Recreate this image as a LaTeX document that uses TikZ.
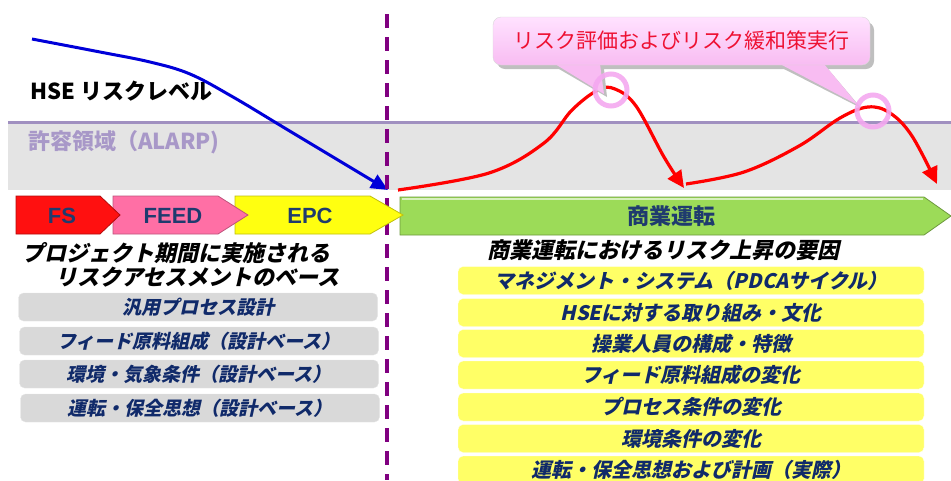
\documentclass[tikz,border=0pt]{standalone}
\usepackage{fontspec}
\newfontfamily\jp{Noto Sans CJK JP}
\newfontfamily\jpit[FakeSlant=0.22]{Noto Sans CJK JP}
\newfontfamily\lat{Liberation Sans}
\usetikzlibrary{arrows.meta}
\definecolor{navy}{HTML}{102A6A}
\definecolor{chevtext}{HTML}{1F3B6E}
\definecolor{alarp}{HTML}{A898C8}
\definecolor{bandline}{HTML}{A090C0}
\definecolor{bandfill}{HTML}{E4E4E4}
\definecolor{dashpurple}{HTML}{800080}
\definecolor{ringpink}{HTML}{F4A8F0}
\definecolor{calltop}{HTML}{FFE2FF}
\definecolor{callbot}{HTML}{F8BCF2}
\definecolor{calltext}{HTML}{EE1133}
\definecolor{boxgray}{HTML}{D9D9D9}
\definecolor{boxyellow}{HTML}{FFFF66}
\definecolor{fsred}{HTML}{FF1010}
\definecolor{feedpink}{HTML}{FF6FA5}
\definecolor{epcyellow}{HTML}{FFFF10}
\definecolor{opgreen}{HTML}{9CDB58}
\begin{document}
\begin{tikzpicture}[x=1pt,y=-1pt,
  heading/.style={font=\jpit\bfseries\fontsize{22}{26}\selectfont, text=black, inner sep=0, anchor=west},
  graybox/.style={draw=white!90!black, fill=boxgray, rounded corners=5, minimum width=359, minimum height=28, inner sep=0,
     font=\jpit\bfseries\fontsize{19}{22}\selectfont, text=navy},
  yelbox/.style={draw=white!92!yellow, fill=boxyellow, rounded corners=5, minimum width=466, minimum height=28, inner sep=0,
     font=\jpit\bfseries\fontsize{20}{23}\selectfont, text=navy},
  chevlabel/.style={font=\lat\bfseries\fontsize{22}{24}\selectfont, text=chevtext, inner sep=0},
  riskline/.style={red, line width=3.2, -{Triangle[length=17,width=16]}},
  ring/.style={draw=ringpink, line width=5, opacity=0.9}
]
\useasboundingbox (0,0) rectangle (951,480);
\clip (0,0) rectangle (951,480);

% tolerable band
\fill[bandfill] (8,122) rectangle (951,190);
\draw[bandline, line width=3] (8,122) -- (951,122);
\node[font=\jp\bfseries\fontsize{22}{24}\selectfont, text=alarp, anchor=west, inner sep=0] (alarp) at (28,142) {許容領域（ALARP)};
\node[font=\jp\bfseries\fontsize{22}{24}\selectfont, text=black, anchor=west, inner sep=0] (hse) at (30,91) {HSE リスクレベル};

% blue risk curve during project
\coordinate (b0) at (32,39);
\coordinate (b7) at (388,190);
\draw[blue!85!black, line width=3, -{Triangle[length=17,width=15]}] plot[smooth, tension=0.6] coordinates {(b0) (100,52) (150,62) (190,74) (233,97) (283,127) (333,157) (b7)};

% dashed divider
\coordinate (d0) at (387,14);
\coordinate (d1) at (387,480);
\draw[dashpurple, line width=4, dash pattern=on 14 off 9] (d0) -- (d1);

% process chevrons
\draw[fill=opgreen, draw=opgreen!70!black, line width=0.8] (400,197) -- (924,197) -- (951,216) -- (924,235) -- (400,235) -- cycle;
\draw[white!60!opgreen, line width=1.5] (402,199) -- (923,199);
\draw[fill=epcyellow, draw=epcyellow!75!black, line width=0.8] (235,196) -- (370,196) -- (403,215) -- (370,234) -- (235,234) -- cycle;
\draw[fill=feedpink, draw=feedpink!75!black, line width=0.8] (113,196) -- (218,196) -- (248,215) -- (218,234) -- (113,234) -- cycle;
\draw[fill=fsred, draw=fsred!70!black, line width=0.8] (16,196) -- (100,196) -- (120,215) -- (100,234) -- (16,234) -- cycle;
\node[chevlabel] (fs) at (62,216) {FS};
\node[chevlabel] (feed) at (173,216) {FEED};
\node[chevlabel] (epc) at (310,216) {EPC};
\node[chevlabel, font=\jp\bfseries\fontsize{22}{24}\selectfont] (ops) at (671,216) {商業運転};

% red risk curve during operation
\coordinate (r0) at (398,190);
\coordinate (r1) at (684,188);
\coordinate (r2) at (686,184);
\coordinate (r3) at (937,184);
\draw[riskline] plot[smooth, tension=0.6] coordinates {(r0) (489,173) (544,143) (572,110) (598,90) (615,89) (636,106) (664,157) (r1)};
\draw[riskline] plot[smooth, tension=0.6] coordinates {(r2) (744,172) (799,146) (840,118) (868,107) (890,113) (912,136) (r3)};

% callout
\fill[black!25] (559,69) -- (604,69) -- (607,97) -- cycle;
\fill[black!25] (784,69) -- (828,69) -- (861,108) -- cycle;
\fill[black!25, rounded corners=8] (497,22) rectangle (874,69);
\fill[callbot] (555,64) -- (600,64) -- (604,94) -- cycle;
\fill[callbot] (780,64) -- (824,64) -- (858,105) -- cycle;
\shade[top color=calltop, bottom color=callbot, draw=white!85!black, rounded corners=8] (493,17) rectangle (870,65);
\node[font=\jp\fontsize{21}{24}\selectfont, text=calltext, inner sep=0] (call) at (681,41) {リスク評価およびリスク緩和策実行};

% highlight rings
\coordinate (c1) at (611,90);
\coordinate (c2) at (873,111);
\draw[ring] (c1) circle (16);
\draw[ring] (c2) circle (16);

% left column
\node[heading] (lh1) at (22,253) {プロジェクト期間に実施される};
\node[heading] (lh2) at (55,277) {リスクアセスメントのベース};
\node[graybox] (g1) at (198,307) {汎用プロセス設計};
\node[graybox] (g2) at (199,341) {フィード原料組成（設計ベース）};
\node[graybox] (g3) at (199,374) {環境・気象条件（設計ベース）};
\node[graybox] (g4) at (200,408) {運転・保全思想（設計ベース）};

% right column
\node[heading] (rh) at (487,250) {商業運転におけるリスク上昇の要因};
\node[yelbox] (y1) at (691,280.5) {マネジメント・システム（PDCAサイクル）};
\node[yelbox] (y2) at (691,312.5) {HSEに対する取り組み・文化};
\node[yelbox] (y3) at (691,343.5) {操業人員の構成・特徴};
\node[yelbox] (y4) at (691,375) {フィード原料組成の変化};
\node[yelbox] (y5) at (691,407) {プロセス条件の変化};
\node[yelbox] (y6) at (691,438.5) {環境条件の変化};
\node[yelbox] (y7) at (691,470) {運転・保全思想および計画（実際）};
\end{tikzpicture}
\end{document}
